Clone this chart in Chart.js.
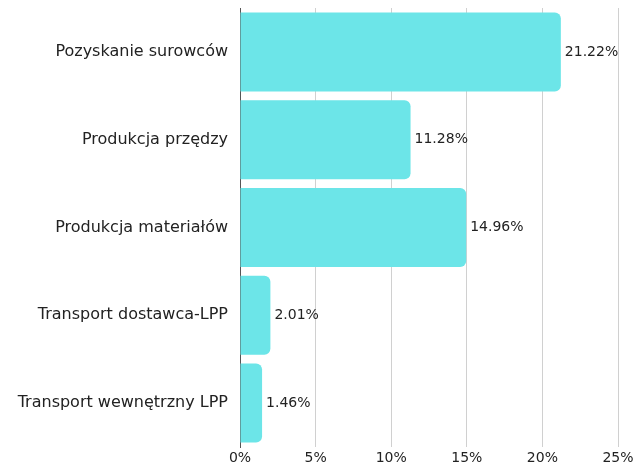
<!DOCTYPE html>
<html><head><meta charset="utf-8">
<script src="https://cdn.jsdelivr.net/npm/chart.js@4"></script>
<style>html,body{margin:0;padding:0;background:#fff}#wrap{width:634px;height:464px}</style>
</head><body><div id="wrap"><canvas id="c" width="634" height="464"></canvas></div>
<script>
const categories = ["Pozyskanie surowców","Produkcja przędzy","Produkcja materiałów","Transport dostawca-LPP","Transport wewnętrzny LPP"];
const values = [21.22, 11.28, 14.96, 2.01, 1.46];
const xTicks = [0, 5, 10, 15, 20, 25];

const FONT = "'DejaVu Sans', sans-serif";
const valueLabels = {
  id: 'valueLabels',
  afterDatasetsDraw(chart) {
    const ctx = chart.ctx;
    const meta = chart.getDatasetMeta(0);
    ctx.save();
    ctx.font = "14px " + FONT;
    ctx.fillStyle = "#222";
    ctx.textAlign = "left";
    ctx.textBaseline = "middle";
    meta.data.forEach((bar, i) => {
      ctx.fillText(values[i].toFixed(2) + "%", bar.x + 4, bar.y);
    });
    ctx.restore();
  }
};

function zeroPad(s) { s.paddingTop = 0; s.paddingBottom = 0; s.paddingLeft = 0; s.paddingRight = 0; }

new Chart(document.getElementById('c'), {
  type: 'bar',
  data: { labels: categories, datasets: [{ data: values, backgroundColor: '#6ce5e8', borderRadius: 6, borderSkipped: 'start', barPercentage: 0.9, categoryPercentage: 1 }] },
  options: {
    indexAxis: 'y', responsive: false, animation: false,
    layout: { padding: { top: 8, right: 16, left: 0, bottom: 0 } },
    plugins: { legend: { display: false }, tooltip: { enabled: false } },
    scales: {
      x: {
        min: 0, max: 25,
        afterBuildTicks(s) { s.ticks = xTicks.map(v => ({ value: v })); },
        afterFit(s) { s.height = 17; zeroPad(s); },
        grid: { color: '#d0d0d0', drawTicks: false, lineWidth: 1 },
        border: { display: false },
        ticks: { padding: 3, color: '#222', font: { family: FONT, size: 14 }, callback: v => v + '%' }
      },
      y: {
        afterFit(s) { s.width = 240; zeroPad(s); },
        grid: { display: false, drawTicks: false },
        border: { display: true, color: '#555', width: 1 },
        ticks: { padding: 12, color: '#222', font: { family: FONT, size: 16 } }
      }
    }
  },
  plugins: [valueLabels]
});
</script></body></html>
